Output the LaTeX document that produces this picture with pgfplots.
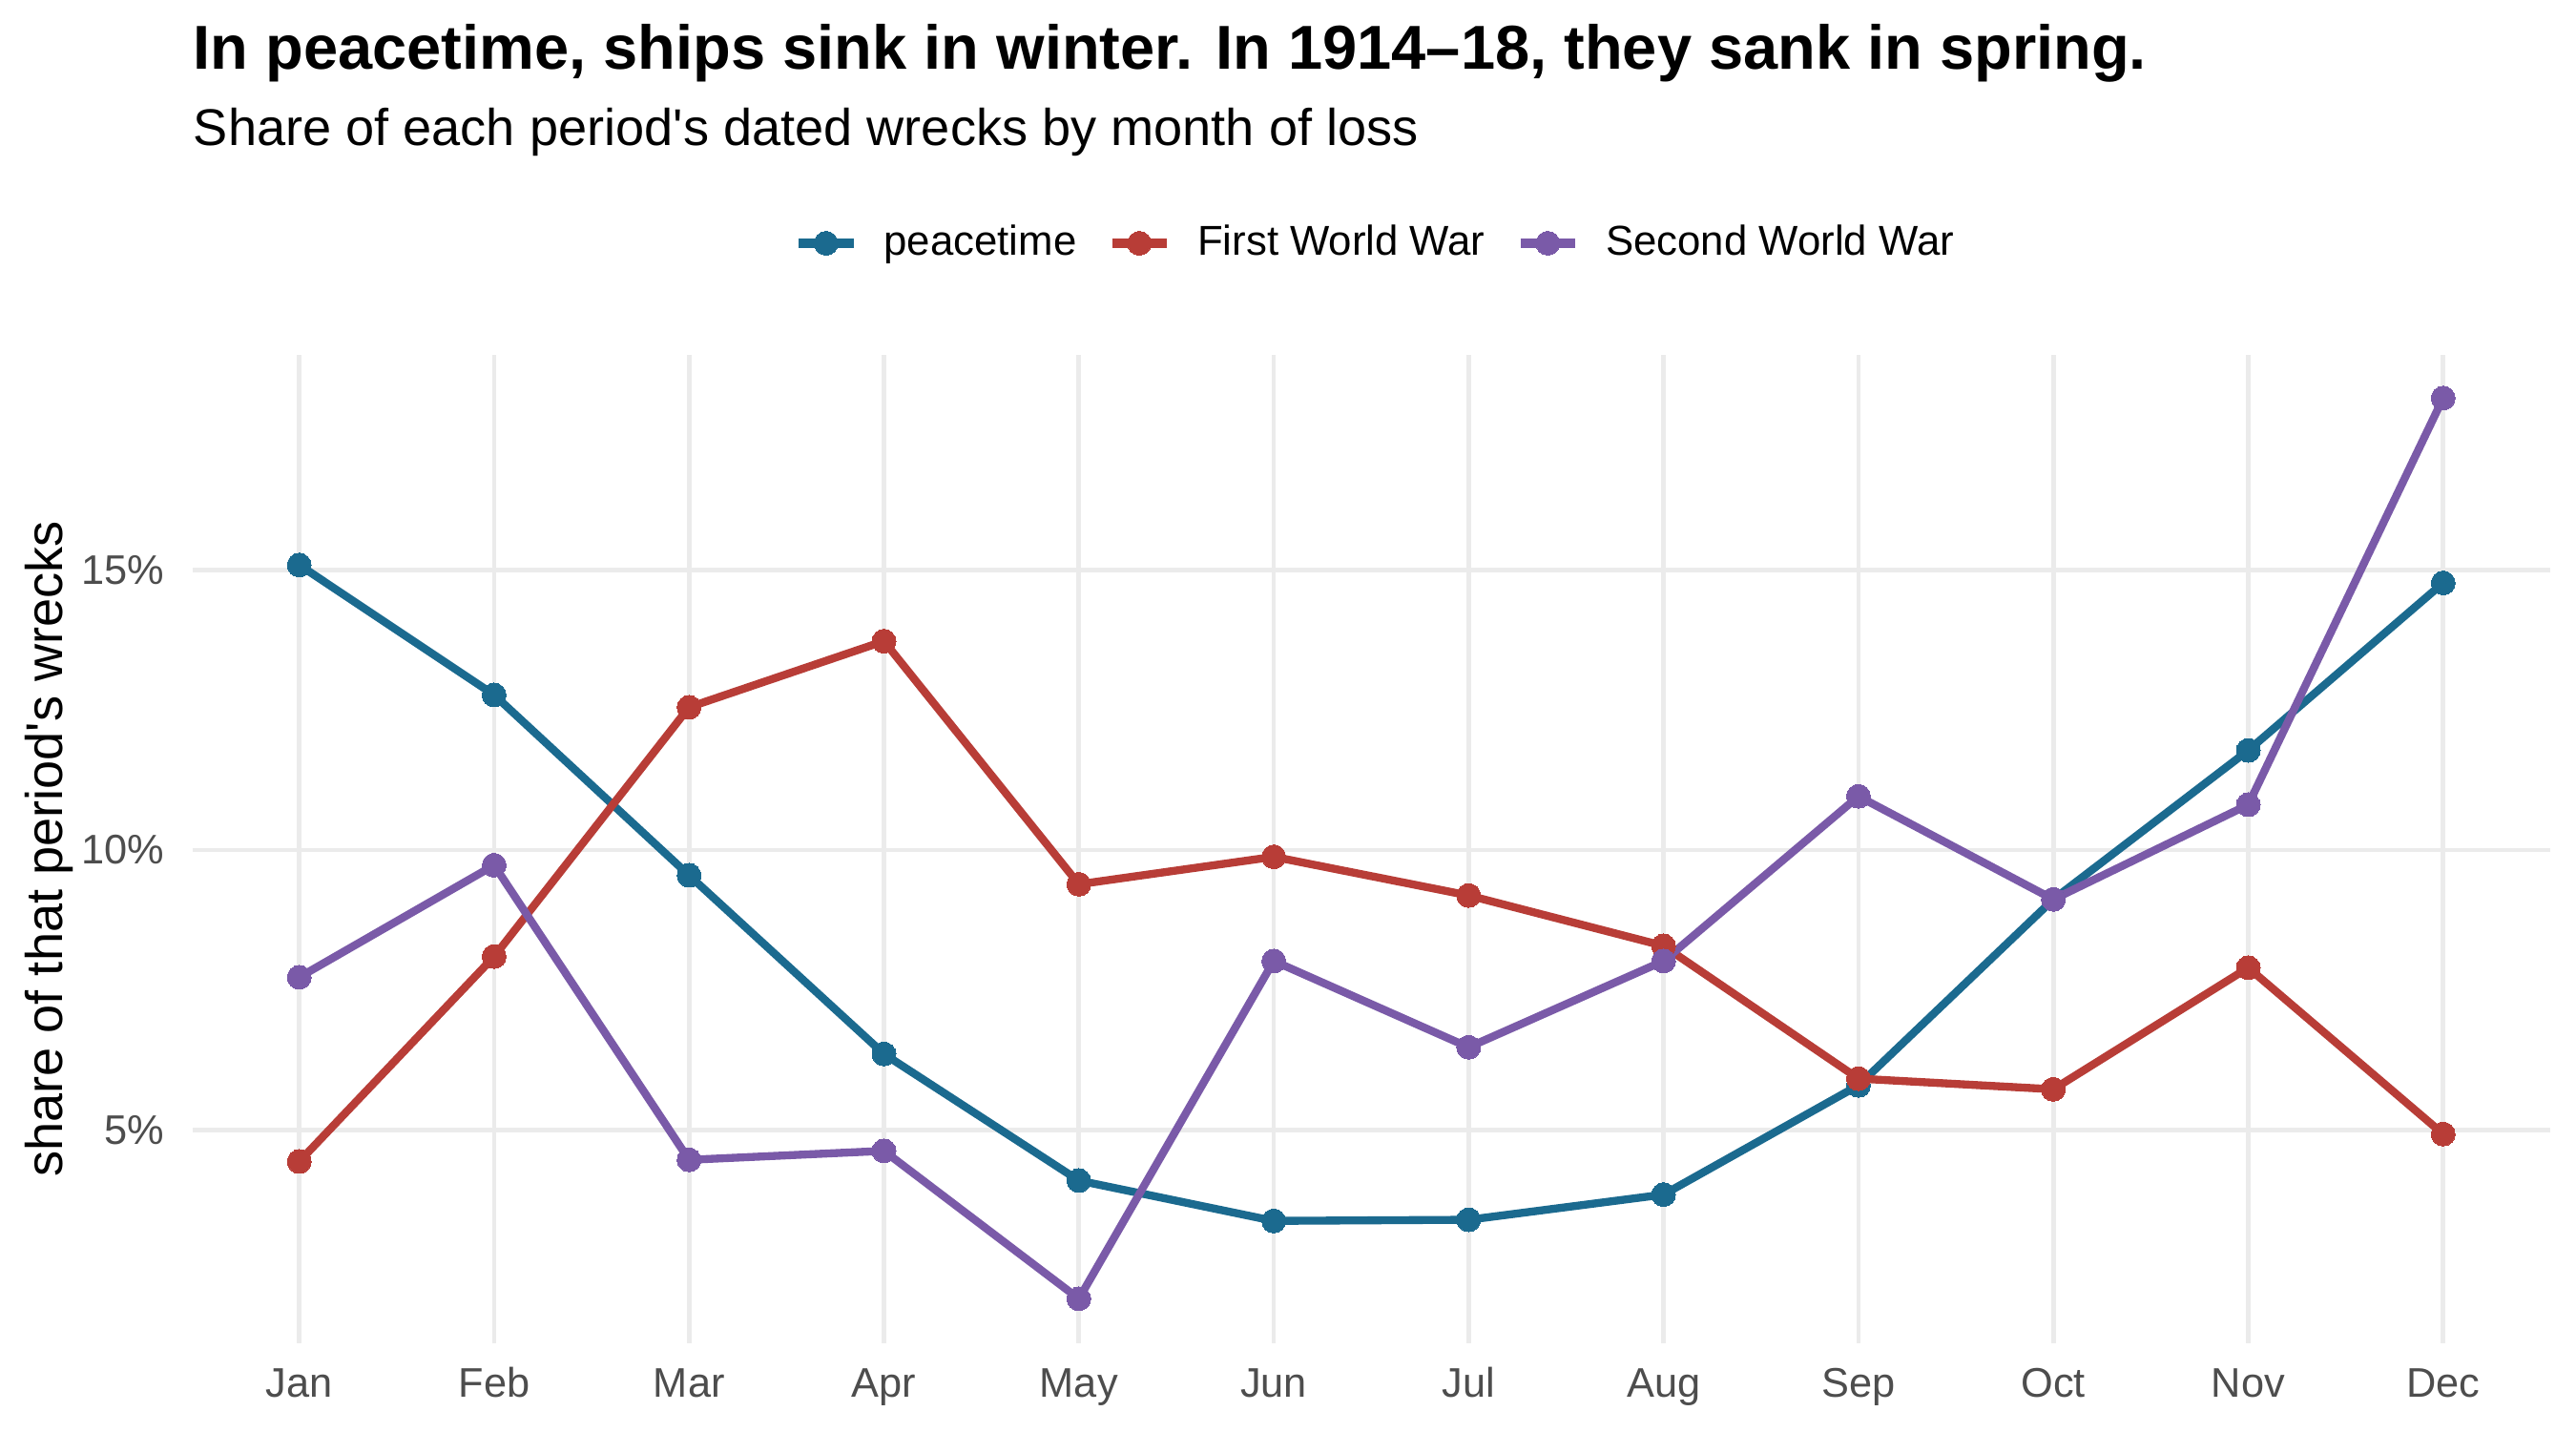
\documentclass[border=0pt]{standalone}
\usepackage{fontspec}
\setmainfont{Liberation Sans}[Ligatures=TeXOff]
\usepackage{pgfplots}
\pgfplotsset{compat=1.18}
\definecolor{cblue}{HTML}{1B6A8F}
\definecolor{cred}{HTML}{B83D37}
\definecolor{cpurple}{HTML}{7A5AA8}
\definecolor{gridgrey}{HTML}{EBEBEB}
\definecolor{ticktxt}{HTML}{4D4D4D}

\pgfplotstableread{
x peace fww sww
0 15.09 4.44 7.73
1 12.77 8.10 9.73
2 9.55 12.55 4.47
3 6.36 13.73 4.63
4 4.10 9.39 1.99
5 3.38 9.88 8.02
6 3.40 9.19 6.48
7 3.85 8.29 8.02
8 5.80 5.92 10.96
9 9.12 5.73 9.12
10 11.78 7.90 10.81
11 14.77 4.93 18.07
}\wrecks

\begin{document}
\begin{tikzpicture}
\useasboundingbox (0,0) rectangle (648pt,360pt);
\node[anchor=base west, inner sep=0pt, font=\bfseries\fontsize{15.6}{18}\selectfont] at (48.5pt,342.5pt) {In peacetime, ships sink in winter. In 1914–18, they sank in spring.};
\node[anchor=base west, inner sep=0pt, font=\fontsize{13}{15}\selectfont] at (48.5pt,323.3pt) {Share of each period's dated wrecks by month of loss};
\begin{axis}[
  at={(48.41pt,22.15pt)}, anchor=south west,
  width=593.04pt, height=248.57pt, scale only axis,
  xmin=-0.548, xmax=11.548, ymin=1.20, ymax=18.84,
  axis line style={draw=none},
  major tick length=0pt,
  grid=major,
  grid style={gridgrey, line width=1.15pt},
  xtick={0,1,2,3,4,5,6,7,8,9,10,11},
  xticklabels={Jan,Feb,Mar,Apr,May,Jun,Jul,Aug,Sep,Oct,Nov,Dec},
  ytick={5,10,15},
  yticklabel={\pgfmathprintnumber{\tick}\%},
  /pgf/number format/assume math mode=true,
  ticklabel style={font=\fontsize{10.4}{12}\selectfont, text=ticktxt, inner sep=0pt},
  yticklabel style={anchor=east, xshift=-6.9pt},
  xticklabel style={anchor=base, yshift=-13.55pt},
  ylabel={share of that period's wrecks},
  ylabel style={at={(axis description cs:-0.0551,0.5)}, anchor=base, inner sep=0pt, font=\fontsize{13}{15}\selectfont},
  legend columns=3,
  legend image code/.code={
    \draw[#1, line width=2.4pt, mark=none] (0pt,0pt) -- (13.8pt,0pt);
    \draw[#1] plot coordinates {(6.9pt,0pt)};
  },
  legend style={at={(axis description cs:0.2551,1.113)}, anchor=west, draw=none, fill=none,
    inner sep=0pt, outer sep=0pt, column sep=0pt,
    font=\fontsize{10.5}{12}\selectfont,
    nodes={inner sep=0pt},
    /tikz/every odd column/.append style={column sep=6.5pt},
    /tikz/every even column/.append style={column sep=7.7pt}},
  every axis plot/.append style={line width=2.0pt, mark=*, mark size=3pt, mark options={solid, line width=0pt}},
]
\addplot[cblue] table[x=x, y=peace] {\wrecks};
\addlegendentry{peacetime}
\addplot[cred] table[x=x, y=fww] {\wrecks};
\addlegendentry{First World War}
\addplot[cpurple] table[x=x, y=sww] {\wrecks};
\addlegendentry{Second World War}
\end{axis}
\end{tikzpicture}
\end{document}
